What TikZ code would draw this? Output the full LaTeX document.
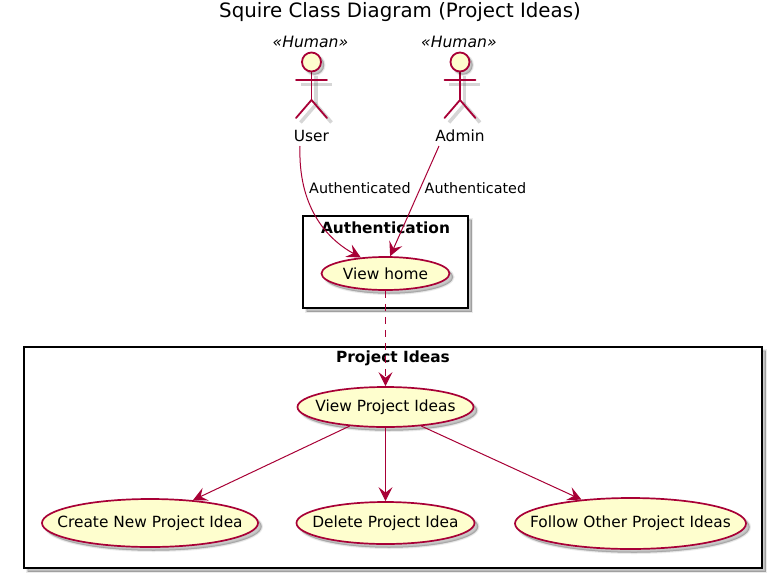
\documentclass[tikz,border=0pt]{standalone}
\usepackage{fontspec}
\setmainfont{DejaVu Sans}
\usetikzlibrary{arrows.meta,shapes.geometric,calc}
\definecolor{umlline}{HTML}{A80036}
\definecolor{umlfill}{HTML}{FEFECE}
\tikzset{
  softshadow/.style={
    preaction={draw=black,fill=black,opacity=.08,line width=3pt,transform canvas={shift={(#1,-#1)}}},
    preaction={draw=black,fill=black,opacity=.14,line width=1pt,transform canvas={shift={(#1,-#1)}}}},
  usecase/.style={ellipse,draw=umlline,fill=umlfill,line width=1.7pt,inner sep=0pt,softshadow=3.5pt,font=\fontsize{15.4}{18}\selectfont},
  pack/.style={rectangle,draw=black,fill=white,line width=2.2pt,inner sep=0pt,softshadow=3.5pt},
  packlabel/.style={font=\fontsize{15.4}{18}\selectfont\bfseries,inner sep=0pt},
  flow/.style={draw=umlline,line width=1pt,-{Stealth[length=14pt,width=14pt,inset=5.5pt]}},
  limb/.style={draw=umlline,line width=1.8pt,line cap=round},
  limbshadow/.style={draw=black,opacity=.16,line width=3.5pt,transform canvas={shift={(4.5pt,-4.5pt)}}},
  head/.style={circle,draw=umlline,fill=umlfill,line width=1.8pt,minimum size=19pt,inner sep=0pt,softshadow=3pt},
  actorname/.style={font=\fontsize{15.4}{18}\selectfont,inner sep=0pt},
  stereo/.style={font=\fontsize{15.6}{18}\selectfont\itshape,inner sep=0pt},
  edgetext/.style={font=\fontsize{14.35}{17}\selectfont,inner sep=0pt}
}
\newcommand{\umlactor}[3]{%
  \coordinate (#1neck) at (#2,71);
  \coordinate (#1hip) at (#2,100);
  \coordinate (#1la) at (#2-15.5,80);
  \coordinate (#1ra) at (#2+15.5,80);
  \coordinate (#1ll) at (#2-15.5,118);
  \coordinate (#1rl) at (#2+15.5,118);
  \foreach \st in {limbshadow,limb}{
    \draw[\st] (#1neck) -- (#1hip);
    \draw[\st] (#1la) -- (#1ra);
    \draw[\st] (#1ll) -- (#1hip) -- (#1rl);
  }
  \node[head] (#1head) at (#2,62) {};
  \node[stereo] (#1st) at (#2-1,41.5) {«Human»};
  \node[actorname] (#1) at (#2,135.5) {#3};
}
\begin{document}
\begin{tikzpicture}[x=1pt,y=-1pt]
\useasboundingbox (0,0) rectangle (774,579);
\node[font=\fontsize{19.8}{22}\selectfont,inner sep=0pt] (title) at (400,12) {Squire Class Diagram (Project Ideas)};
% packages
\node[pack,minimum width=165pt,minimum height=92pt] (authbox) at (385.5,262) {};
\node[pack,minimum width=738pt,minimum height=221pt] (ideasbox) at (393,457.5) {};
\node[packlabel] (authlabel) at (385.5,228) {Authentication};
\node[packlabel] (ideaslabel) at (393,358) {Project Ideas};
% actors
\umlactor{user}{311.5}{User}
\umlactor{admin}{460}{Admin}
% use cases
\node[usecase,minimum width=128pt,minimum height=33pt] (home) at (385.5,273.5) {\makebox[0pt]{View home}};
\node[usecase,minimum width=176pt,minimum height=40pt] (view) at (385.5,407) {\makebox[0pt]{View Project Ideas}};
\node[usecase,minimum width=216pt,minimum height=48pt] (create) at (150,523) {\makebox[0pt]{Create New Project Idea}};
\node[usecase,minimum width=178pt,minimum height=42pt] (delete) at (385.5,523) {\makebox[0pt]{Delete Project Idea}};
\node[usecase,minimum width=231pt,minimum height=51pt] (follow) at (630.5,523.5) {\makebox[0pt]{Follow Other Project Ideas}};
% connectors
\coordinate (userout) at (300,146);
\coordinate (adminout) at (439,146);
\draw[flow] (userout) .. controls (298,205) and (325,238) .. (home.147);
\draw[flow] (adminout) -- (home.75);
\draw[flow,dash pattern=on 7pt off 6pt] (home.south) -- (view.north);
\draw[flow] (view.208) -- (create.28);
\draw[flow] (view.south) -- (delete.north);
\draw[flow] (view.332) -- (follow.154);
% edge labels
\node[edgetext,anchor=west] (lab1) at (309,188) {Authenticated};
\node[edgetext,anchor=west] (lab2) at (424.5,188) {Authenticated};
\end{tikzpicture}
\end{document}
